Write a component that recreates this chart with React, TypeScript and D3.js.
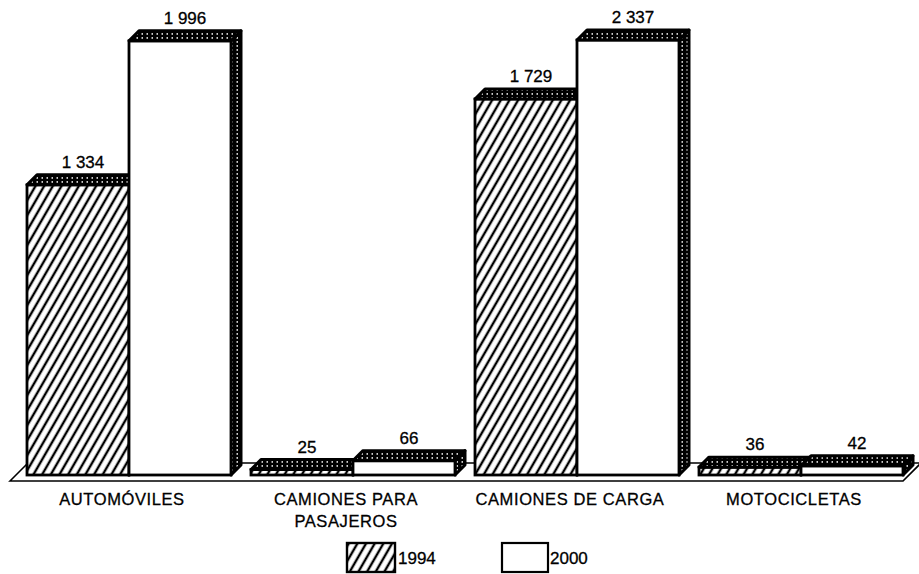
import React from "react";
import * as d3 from "d3";

const categories: string[][] = [
  ["AUTOMÓVILES"],
  ["CAMIONES PARA", "PASAJEROS"],
  ["CAMIONES DE CARGA"],
  ["MOTOCICLETAS"],
];
const seriesNames = ["1994", "2000"];
const values1994 = [1334, 25, 1729, 36];
const values2000 = [1996, 66, 2337, 42];

const W = 919;
const H = 574;
const BASE = 475;
const DX = 10;
const DY = -10;
const FONT = "'Liberation Sans', Arial, Helvetica, sans-serif";

const fmt = d3
  .formatLocale({ thousands: " ", grouping: [3], decimal: ",", currency: ["", ""] })
  .format(",");

export default function App() {
  const keys = categories.map((c) => c.join(" "));
  const x0 = d3.scaleBand<string>().domain(keys).range([27, 903]).paddingInner(0.0893).paddingOuter(0);
  const x1 = d3.scaleBand<string>().domain(seriesNames).range([0, x0.bandwidth()]).padding(0);
  // the original chart's axis is cut above ~2000 (tallest bar clipped)
  const h = d3.scaleLinear().domain([0, 2000]).range([0, 435]).clamp(true);

  const series = [values1994, values2000];

  const bars: JSX.Element[] = [];
  const labels: JSX.Element[] = [];
  keys.forEach((k, gi) => {
    seriesNames.forEach((s, si) => {
      const v = series[si][gi];
      const x = (x0(k) as number) + (x1(s) as number);
      const w = x1.bandwidth();
      const top = BASE - h(v);
      const frontFill = si === 0 ? "url(#hatch)" : "#fff";
      const topPts = [
        [x, top],
        [x + DX, top + DY],
        [x + w + DX, top + DY],
        [x + w, top],
      ];
      const sidePts = [
        [x + w, top],
        [x + w + DX, top + DY],
        [x + w + DX, BASE + DY],
        [x + w, BASE],
      ];
      bars.push(
        <g key={`${gi}-${si}`}>
          <polygon
            points={sidePts.map((p) => p.join(",")).join(" ")}
            fill="url(#speck)"
            stroke="#000"
            strokeWidth={3}
            strokeLinejoin="round"
          />
          <rect x={x} y={top} width={w} height={BASE - top} fill="#fff" />
          <rect
            x={x}
            y={top}
            width={w}
            height={BASE - top}
            fill={frontFill}
            stroke="#000"
            strokeWidth={2.8}
          />
          <polygon
            points={topPts.map((p) => p.join(",")).join(" ")}
            fill="url(#speck)"
            stroke="#000"
            strokeWidth={3}
            strokeLinejoin="round"
          />
        </g>
      );
      labels.push(
        <text
          key={`l${gi}-${si}`}
          x={x + w / 2 + DX / 2}
          y={top + DY - 7}
          textAnchor="middle"
          fontSize={17}
          fontFamily={FONT}
          stroke="#000"
          strokeWidth={0.3}
        >
          {fmt(v)}
        </text>
      );
    });
  });

  const floorFrontL = 10;
  const floorFrontR = 903;
  const floorFrontY = 481;
  const floorBackY = 463;
  const floorPts = [
    [floorFrontL, floorFrontY],
    [floorFrontL + (floorFrontY - floorBackY), floorBackY],
    [floorFrontR + (floorFrontY - floorBackY), floorBackY],
    [floorFrontR, floorFrontY],
  ];

  return (
    <svg
      width={W}
      height={H}
      style={{ position: "absolute", left: 0, top: 0, display: "block", background: "#fff" }}
    >
      <defs>
        <pattern
          id="hatch"
          patternUnits="userSpaceOnUse"
          width={7.5}
          height={7.5}
          patternTransform="rotate(30)"
        >
          <rect width={7.5} height={7.5} fill="#fff" />
          <line x1={3.75} y1={-1} x2={3.75} y2={9} stroke="#000" strokeWidth={2.4} />
        </pattern>
        <pattern id="speck" patternUnits="userSpaceOnUse" width={5} height={4}>
          <rect width={5} height={4} fill="#000" />
          <rect x={1.5} y={1.2} width={1.5} height={1.5} fill="#fff" />
        </pattern>
      </defs>
      <rect width={W} height={H} fill="#fff" />
      <polygon
        points={floorPts.map((p) => p.join(",")).join(" ")}
        fill="#fff"
        stroke="#000"
        strokeWidth={1.6}
      />
      {bars}
      {labels}
      {categories.map((lines, gi) => {
        const cx = (x0(keys[gi]) as number) + x0.bandwidth() / 2 - 7;
        return (
          <text
            key={`c${gi}`}
            textAnchor="middle"
            fontSize={16.5}
            fontFamily={FONT}
            letterSpacing={0.6}
            stroke="#000"
            strokeWidth={0.3}
          >
            {lines.map((ln, li) => (
              <tspan key={li} x={cx} y={505 + li * 22}>
                {ln}
              </tspan>
            ))}
          </text>
        );
      })}
      <g fontFamily={FONT} fontSize={17} stroke="#000" strokeWidth={0.3}>
        <rect x={347} y={543} width={48} height={29} fill="url(#hatch)" stroke="#000" strokeWidth={2.4} />
        <text x={398} y={564}>{seriesNames[0]}</text>
        <rect x={502} y={543} width={46} height={29} fill="#fff" stroke="#000" strokeWidth={2.2} />
        <text x={550} y={564}>{seriesNames[1]}</text>
      </g>
    </svg>
  );
}
